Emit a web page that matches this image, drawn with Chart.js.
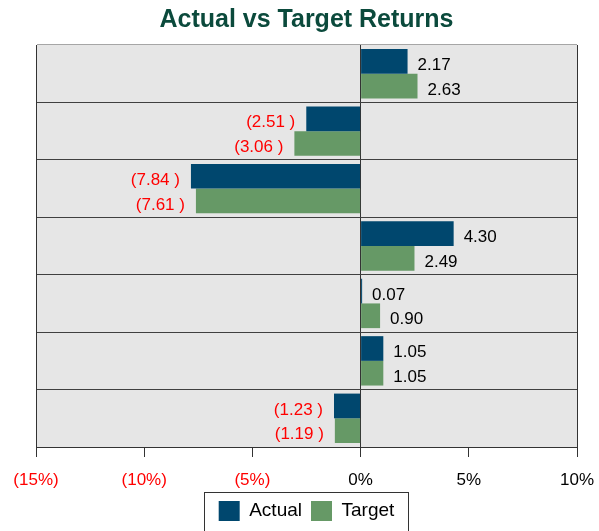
<!DOCTYPE html>
<html>
<head>
<meta charset="utf-8">
<script src="https://cdn.jsdelivr.net/npm/chart.js@4.4.1/dist/chart.umd.min.js"></script>
<style>
  html, body { margin: 0; padding: 0; background: #fff; }
  #wrap { width: 599px; height: 531px; }
</style>
</head>
<body>
<div id="wrap"><canvas id="chart"></canvas></div>
<script>
// categories are not labelled in the chart, one per row
var categories = ["1", "2", "3", "4", "5", "6", "7"];
var actualValues = [2.17, -2.51, -7.84, 4.30, 0.07, 1.05, -1.23];
var targetValues = [2.63, -3.06, -7.61, 2.49, 0.90, 1.05, -1.19];
var xTicks = [-15, -10, -5, 0, 5, 10];

var fontFamily = "'Liberation Sans', Arial, sans-serif";

// format like the accounting style: negatives in brackets
function fmtPct(v) {
    return v < 0 ? "(" + Math.abs(v) + "%)" : v + "%";
}
function fmtValue(v) {
    return v < 0 ? "(" + Math.abs(v).toFixed(2) + " )" : v.toFixed(2);
}

// grey plot background
var plotBackground = {
    id: "plotBackground",
    beforeDraw: function (chart) {
        var a = chart.chartArea, ctx = chart.ctx;
        ctx.save();
        ctx.fillStyle = "#e6e6e6";
        ctx.fillRect(a.left, a.top, a.right - a.left, a.bottom - a.top);
        ctx.restore();
    }
};

// value labels next to the end of each bar
var valueLabels = {
    id: "valueLabels",
    afterDatasetsDraw: function (chart) {
        var ctx = chart.ctx;
        ctx.save();
        ctx.font = "17px " + fontFamily;
        ctx.textBaseline = "middle";
        chart.data.datasets.forEach(function (ds, i) {
            chart.getDatasetMeta(i).data.forEach(function (bar, j) {
                var v = ds.data[j];
                if (v < 0) {
                    ctx.fillStyle = "#ff0000";
                    ctx.textAlign = "right";
                    ctx.fillText(fmtValue(v), bar.x - 11, bar.y + 4);
                } else {
                    ctx.fillStyle = "#000";
                    ctx.textAlign = "left";
                    ctx.fillText(fmtValue(v), bar.x + 10, bar.y + 4);
                }
            });
        });
        ctx.restore();
    }
};

// border round the legend items
var legendBox = {
    id: "legendBox",
    afterDraw: function (chart) {
        var boxes = chart.legend.legendHitBoxes;
        if (!boxes || !boxes.length) return;
        var left = boxes[0].left, right = 0;
        boxes.forEach(function (b) {
            left = Math.min(left, b.left);
            right = Math.max(right, b.left + b.width);
        });
        var ctx = chart.ctx;
        ctx.save();
        ctx.strokeStyle = "#333";
        ctx.lineWidth = 1;
        ctx.strokeRect(Math.round(left - 15) + 0.5, Math.round(chart.legend.top) + 0.5,
            Math.round(right - left + 28), 60);
        ctx.restore();
    }
};

new Chart(document.getElementById("chart").getContext("2d"), {
    type: "bar",
    data: {
        labels: categories,
        datasets: [{
            label: "Actual",
            data: actualValues,
            backgroundColor: "#00476e",
            categoryPercentage: 0.86,
            barPercentage: 1.0
        }, {
            label: "Target",
            data: targetValues,
            backgroundColor: "#669966",
            categoryPercentage: 0.86,
            barPercentage: 1.0
        }]
    },
    options: {
        indexAxis: "y",
        responsive: true,
        maintainAspectRatio: false,
        animation: false,
        layout: { padding: { left: 36, right: 22, top: 0, bottom: 0 } },
        scales: {
            x: {
                min: -15,
                max: 10,
                afterBuildTicks: function (axis) {
                    axis.ticks = xTicks.map(function (v) { return { value: v }; });
                },
                afterFit: function (axis) {
                    axis.height = 45;
                    axis.paddingLeft = 0;
                    axis.paddingRight = 0;
                },
                grid: {
                    drawOnChartArea: true,
                    color: function (c) {
                        return (c.tick && (c.tick.value === 0 || c.tick.value === 10)) ? "#333" : "rgba(0,0,0,0)";
                    },
                    tickColor: "#333",
                    tickLength: 10
                },
                border: { color: "#333" },
                ticks: {
                    padding: 13,
                    font: { size: 17, family: fontFamily },
                    color: function (c) { return c.tick.value < 0 ? "#ff0000" : "#000"; },
                    callback: function (v) { return fmtPct(v); }
                }
            },
            y: {
                grid: {
                    offset: true,
                    drawTicks: false,
                    color: function (c) { return c.index === 0 ? "#a6a6a6" : "#404040"; }
                },
                border: { color: "#333" },
                ticks: { display: false }
            }
        },
        plugins: {
            title: {
                display: true,
                text: "Actual vs Target Returns",
                color: "#0b4a3c",
                font: { size: 25, weight: "bold", family: fontFamily },
                padding: { top: 5, bottom: 10 }
            },
            legend: {
                position: "bottom",
                labels: {
                    boxWidth: 21,
                    boxHeight: 20,
                    padding: 9,
                    color: "#000",
                    font: { size: 19, family: fontFamily }
                }
            },
            tooltip: { enabled: false }
        }
    },
    plugins: [plotBackground, valueLabels, legendBox]
});
</script>
</body>
</html>
